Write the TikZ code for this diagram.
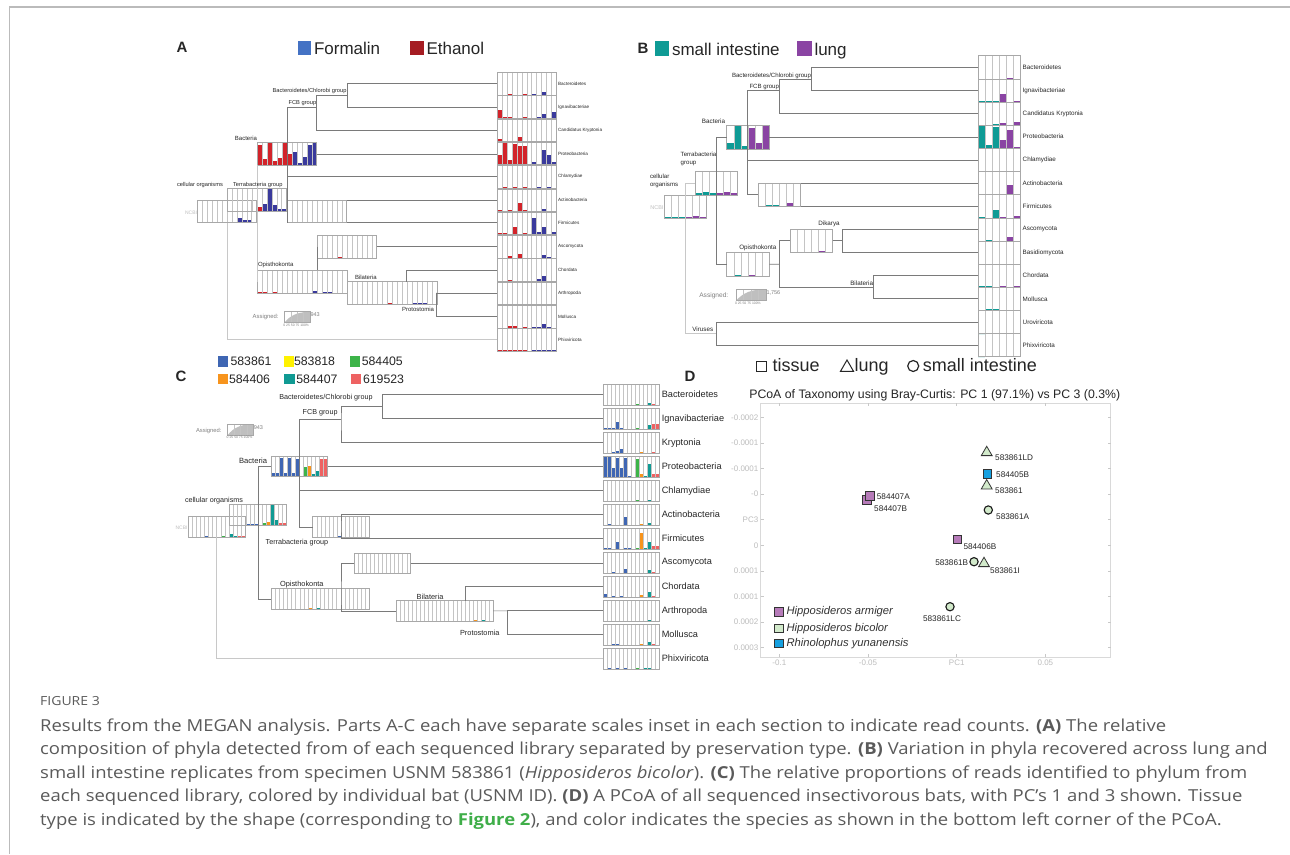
\documentclass[tikz,border=0pt]{standalone}
\usepackage{fontspec}
\usepackage{graphicx}
\setmainfont{Liberation Sans}
\newfontfamily\capfont{Open Sans}
\usetikzlibrary{shapes.geometric,calc}
\newcommand{\myfs}[1]{\fontsize{#1}{#1}\selectfont}
\newcommand{\capw}[1]{\scalebox{1.12}[1]{#1}}
\definecolor{aR}{HTML}{D2232A}
\definecolor{aB}{HTML}{3A3A9C}
\definecolor{legR}{HTML}{A51C22}
\definecolor{legB}{HTML}{4472C4}
\definecolor{bT}{HTML}{0F9B95}
\definecolor{bP}{HTML}{8A44A3}
\definecolor{cB}{HTML}{3F66B3}
\definecolor{cY}{HTML}{FFF200}
\definecolor{cG}{HTML}{3DB449}
\definecolor{cO}{HTML}{F7941D}
\definecolor{cT}{HTML}{109A93}
\definecolor{cS}{HTML}{EE6262}
\definecolor{pPur}{HTML}{B67BB9}
\definecolor{pGrn}{HTML}{D2EACB}
\definecolor{pBlu}{HTML}{16A0E0}
\definecolor{edgec}{HTML}{7A7A7A}
\definecolor{lightc}{HTML}{C8C8C8}
\definecolor{boxc}{HTML}{A8A8A8}
\definecolor{gridc}{HTML}{C4C4C4}
\definecolor{capc}{HTML}{5A5A5A}
\definecolor{figgreen}{HTML}{3FAE49}
\definecolor{tickc}{HTML}{BDBDBD}
\definecolor{bordc}{HTML}{BBBBBB}

\newcommand{\chart}[7]{%
  \node[chartn, minimum width=#4*#5, minimum height=#6, anchor=north west] (#1) at (#2,#3) {};
  \foreach \bi/\bh/\bc in {#7} {\fill[fill=\bc] (#2+\bi*#5, #3+#6) rectangle ++(#5, -\bh*#6);}
  \pgfmathtruncatemacro\ncm{#4-1}
  \foreach \k in {1,...,\ncm} {\draw[gridl] (#2+\k*#5, #3) -- ++(0, #6);}
  \draw[boxl] (#1.north west) rectangle (#1.south east);
}
\newcommand{\assigned}[6]{%
  \node[chartn, minimum width=#4, minimum height=#5, anchor=north west] (#1) at (#2,#3) {};
  \fill[gray!50] (#2,#3+#5) .. controls (#2+0.25*#4,#3+0.3*#5) and (#2+0.5*#4,#3+0.05*#5) .. (#2+#4,#3) -- (#2+#4,#3+#5) -- cycle;
  \foreach \k in {1,2,3} {\draw[gridl] (#2+\k*#4/4,#3) -- ++(0,#5);}
  \draw[boxl] (#1.north west) rectangle (#1.south east);
  \node[lab, anchor=west, text=gray, font=\myfs{5.5}] (#1n) at (#2+#4+0.5,#3+0.3*#5) {#6};
  \node[lab, anchor=north west, text=gray, font=\myfs{3.4}] (#1t) at (#2-1,#3+#5+1.5) {0 25 50 75 100\%};
}

\begin{document}
\begin{tikzpicture}[x=1pt,y=-1pt,
  chartn/.style={inner sep=0pt, outer sep=0pt},
  gridl/.style={draw=gridc, line width=0.35pt},
  boxl/.style={draw=boxc, line width=0.5pt},
  edge/.style={draw=edgec, line width=0.7pt},
  edgeL/.style={draw=lightc, line width=1.2pt},
  lab/.style={inner sep=0pt, outer sep=0pt, text=black!85},
  sqleg/.style={inner sep=0pt, minimum size=#1, anchor=north west},
  tick/.style={inner sep=0pt, text=tickc, font=\myfs{8}},
  tickl/.style={draw=lightc, line width=0.5pt},
  sqm/.style={rectangle, inner sep=0pt, minimum size=8.5, draw=black!80, line width=0.9pt},
  cim/.style={circle, inner sep=0pt, minimum size=8.3, draw=black!90, line width=1.1pt, fill=pGrn},
  trm/.style={regular polygon, regular polygon sides=3, inner sep=0pt, minimum size=12.5, draw=black!80, line width=0.8pt, fill=pGrn},
  ptl/.style={inner sep=0pt, font=\myfs{8.2}, text=black!85},
  capl/.style={inner sep=0pt, anchor=west, font=\capfont\myfs{16.5}, text=capc}
]
\useasboundingbox (0,0) rectangle (1290,854);
\fill[white] (0,0) rectangle (1290,854);
\draw[draw=bordc, line width=1.3pt] (9.5,854) -- (9.5,7) -- (1290,7);

%%%%%%%%%%%%%%%%%%%%%%%% PANEL A
\node[lab, font=\bfseries\myfs{15}, anchor=west] (letA) at (176.5,47.5) {A};
\node[sqleg=13.5, fill=legB] (lgA1) at (297.7,41) {};
\node[lab, font=\myfs{17}, anchor=base west] (lgA1t) at (314,54.3) {Formalin};
\node[sqleg=13.5, fill=legR] (lgA2) at (410,41) {};
\node[lab, font=\myfs{17}, anchor=base west] (lgA2t) at (426.5,54.3) {Ethanol};

\chart{Ar1}{497.3}{72.3}{12}{4.9}{22.5}{2/0.04/aR,5/0.04/aR,7/0.03/aB,9/0.12/aB}
\chart{Ar2}{497.3}{95.6}{12}{4.9}{22.5}{0/0.36/aR,1/0.06/aR,2/0.06/aR,5/0.05/aR,8/0.05/aB,9/0.2/aB,11/0.25/aB}
\chart{Ar3}{497.3}{118.9}{12}{4.9}{22.5}{0/0.12/aR,1/0.04/aR,2/0.04/aR,3/0.04/aR,4/0.2/aR,5/0.03/aR,7/0.03/aB,9/0.03/aB,11/0.03/aB}
\chart{Ar4}{497.3}{142.2}{12}{4.9}{22.5}{0/0.42/aR,1/0.95/aR,2/0.2/aR,3/0.9/aR,4/0.85/aR,5/0.85/aR,7/0.12/aB,8/0.05/aB,9/0.65/aB,10/0.45/aB,11/0.1/aB}
\chart{Ar5}{497.3}{165.5}{12}{4.9}{22.5}{1/0.03/aR,3/0.03/aR,5/0.03/aR,8/0.03/aB,10/0.03/aB}
\chart{Ar6}{497.3}{188.8}{12}{4.9}{22.5}{0/0.04/aR,2/0.04/aR,4/0.38/aR,5/0.04/aR,7/0.03/aB,9/0.12/aB,11/0.03/aB}
\chart{Ar7}{497.3}{212.1}{12}{4.9}{22.5}{0/0.05/aR,1/0.05/aR,3/0.35/aR,5/0.08/aR,7/0.75/aB,8/0.1/aB,9/0.35/aB,11/0.1/aB}
\chart{Ar8}{497.3}{235.4}{12}{4.9}{22.5}{2/0.08/aR,4/0.17/aR,9/0.12/aB,10/0.05/aB}
\chart{Ar9}{497.3}{258.7}{12}{4.9}{22.5}{0/0.03/aR,2/0.04/aR,4/0.03/aR,5/0.03/aR,8/0.12/aB,9/0.22/aB,11/0.03/aB}
\chart{Ar10}{497.3}{282.0}{12}{4.9}{22.5}{9/0.04/aB}
\chart{Ar11}{497.3}{305.3}{12}{4.9}{22.5}{2/0.1/aR,3/0.1/aR,5/0.03/aR,7/0.04/aB,8/0.05/aB,9/0.15/aB,10/0.05/aB}
\chart{Ar12}{497.3}{328.6}{12}{4.9}{22.5}{0/0.03/aR,1/0.03/aR,2/0.03/aR,3/0.03/aR,4/0.03/aR,5/0.03/aR,7/0.03/aB,8/0.03/aB,9/0.05/aB,10/0.03/aB,11/0.03/aB}
\foreach \k/\lab in {1/Bacteroidetes,2/Ignavibacteriae,3/Candidatus Kryptonia,4/Proteobacteria,5/Chlamydiae,6/Actinobacteria,7/Firmicutes,8/Ascomycota,9/Chordata,10/Arthropoda,11/Mollusca,12/Phixviricota}
  {\node[lab, font=\myfs{4.6}, anchor=west] (Al\k) at (Ar\k.east) {\hspace{2pt}\lab};}

\coordinate (bcA) at (347.3,95);
\coordinate (fcbA) at (316.7,107.3);
\coordinate (bnA) at (287.3,107.3);
\coordinate (bilnA) at (406.7,281.7);

\chart{ncbiA}{197.7}{200}{12}{4.9}{22.7}{0/0.05/aR,1/0.05/aR,2/0.05/aR,3/0.05/aR,4/0.05/aR,5/0.05/aR,6/0.05/aB,7/0.05/aB,8/0.22/aB,9/0.1/aB,10/0.1/aB,11/0.03/aB}
\chart{cellA}{227.7}{188.7}{12}{4.9}{23}{6/0.2/aR,7/0.35/aB,8/1/aB,9/0.3/aB,10/0.12/aB,11/0.12/aB}
\chart{bactA}{257.3}{142.7}{12}{4.95}{22.3}{0/0.9/aR,1/0.25/aR,2/1/aR,3/0.2/aR,4/0.3/aR,5/1/aR,6/0.5/aR,7/0.6/aB,8/0.08/aB,9/0.35/aB,10/0.9/aB,11/0.97/aB}
\chart{terrA}{287.3}{200}{12}{4.95}{22.7}{2/0.04/aR,3/0.04/aR,8/0.04/aB,9/0.04/aB,10/0.04/aB}
\chart{ascoA}{317.7}{235}{12}{4.92}{23.3}{4/0.05/aR}
\chart{opisA}{257.3}{270}{18}{4.97}{23.3}{0/0.05/aR,1/0.04/aR,3/0.04/aR,11/0.12/aB,13/0.05/aB,14/0.05/aB}
\chart{bilaA}{347.3}{281.7}{18}{4.97}{22.3}{8/0.04/aR,13/0.05/aB,14/0.05/aB,15/0.05/aB}

\draw[edgeL] (ncbiA.south) |- (Ar12.west);
\draw[edgeL] (bactA.south west) -- (opisA.west);
\draw[edge] (Ar1.west) -| (bcA) |- (Ar2.west);
\draw[edge] (bcA) -| (fcbA) |- (Ar3.west);
\draw[edge] (fcbA) -- (bnA) -- (terrA.south west);
\draw[edge] (bactA.east) -- (bactA.east -| Ar4.west);
\draw[edge] (bnA |- Ar5.west) -- (Ar5.west);
\draw[edge] (terrA.north east) -- (terrA.north east -| Ar6.west);
\draw[edge] (terrA.south east) -- (terrA.south east -| Ar7.west);
\draw[edge] (ascoA.west) -- (ascoA.west |- opisA.north);
\draw[edge] (ascoA.east) -- (ascoA.east -| Ar8.west);
\draw[edge] (Ar9.west) -| (bilnA);
\draw[edge] (Ar10.west) -| (bilaA.east) |- (Ar11.west);

\node[lab, font=\myfs{5.7}, anchor=east] (tA1) at (346.5,91.5) {Bacteroidetes/Chlorobi group};
\node[lab, font=\myfs{5.7}, anchor=east] (tA2) at (316.2,102.8) {FCB group};
\node[lab, font=\myfs{6}, anchor=east] (tA3) at (257,138.5) {Bacteria};
\node[lab, font=\myfs{5.7}, anchor=west] (tA4) at (233,185) {Terrabacteria group};
\node[lab, font=\myfs{5.7}, anchor=west] (tA5) at (177,185) {cellular organisms};
\node[lab, font=\myfs{5}, anchor=east, text=lightgray] (tA6) at (197,213) {NCBI};
\node[lab, font=\myfs{6}, anchor=west] (tA7) at (258,265) {Opisthokonta};
\node[lab, font=\myfs{6}, anchor=west] (tA8) at (355,277.5) {Bilateria};
\node[lab, font=\myfs{6}, anchor=west] (tA9) at (402,309) {Protostomia};
\node[lab, font=\myfs{5.9}, text=gray, anchor=west] (asAl) at (252.7,317.3) {Assigned:};
\assigned{asA}{284.3}{311.7}{25.7}{11}{943}

%%%%%%%%%%%%%%%%%%%%%%%% PANEL B
\node[lab, font=\bfseries\myfs{15}, anchor=west] (letB) at (637.5,48.3) {B};
\node[sqleg=14.5, fill=bT] (lgB1) at (654.5,41) {};
\node[lab, font=\myfs{17}, anchor=base west] (lgB1t) at (672,55) {small intestine};
\node[sqleg=14.5, fill=bP] (lgB2) at (797,41) {};
\node[lab, font=\myfs{17}, anchor=base west] (lgB2t) at (814.5,55) {lung};

\chart{Br1}{978.3}{55.7}{6}{7.07}{23.15}{4/0.03/bP}
\chart{Br2}{978.3}{78.85}{6}{7.07}{23.15}{0/0.04/bT,1/0.04/bT,2/0.03/bT,3/0.33/bP,5/0.04/bP}
\chart{Br3}{978.3}{102.0}{6}{7.07}{23.15}{2/0.03/bT,3/0.08/bP,5/0.15/bP}
\chart{Br4}{978.3}{125.15}{6}{7.07}{23.15}{0/0.95/bT,1/0.14/bT,2/0.9/bT,3/0.38/bP,4/0.78/bP,5/0.05/bP}
\chart{Br5}{978.3}{148.3}{6}{7.07}{23.15}{0/0/bT}
\chart{Br6}{978.3}{171.45}{6}{7.07}{23.15}{1/0.04/bT,3/0.04/bP,4/0.42/bP,5/0.03/bP}
\chart{Br7}{978.3}{194.6}{6}{7.07}{23.15}{0/0.04/bT,2/0.35/bT,3/0.04/bP,5/0.08/bP}
\chart{Br8}{978.3}{217.75}{6}{7.07}{23.15}{1/0.05/bT,4/0.15/bP}
\chart{Br9}{978.3}{240.9}{6}{7.07}{23.15}{0/0/bT}
\chart{Br10}{978.3}{264.05}{6}{7.07}{23.15}{0/0.04/bT,1/0.04/bT,3/0.05/bP,5/0.04/bP}
\chart{Br11}{978.3}{287.2}{6}{7.07}{23.15}{1/0.05/bT,2/0.05/bT}
\chart{Br12}{978.3}{310.35}{6}{7.07}{23.15}{0/0/bT}
\chart{Br13}{978.3}{333.5}{6}{7.07}{23.15}{0/0/bT}
\foreach \k/\lab in {1/Bacteroidetes,2/Ignavibacteriae,3/Candidatus Kryptonia,4/Proteobacteria,5/Chlamydiae,6/Actinobacteria,7/Firmicutes,8/Ascomycota,9/Basidiomycota,10/Chordata,11/Mollusca,12/Uroviricota,13/Phixviricota}
  {\node[lab, font=\myfs{6.3}, anchor=west] (Bl\k) at (Br\k.east) {\hspace{2pt}\lab};}

\coordinate (bcB) at (811.7,79);
\coordinate (fcbB) at (779.3,90);
\coordinate (bnB) at (747.7,90);
\coordinate (opnB) at (779.3,264.2);
\coordinate (bilB) at (873.3,287.3);
\coordinate (dknB) at (842.3,240.65);
\coordinate (virB) at (716.7,333.6);

\chart{bactB}{726.7}{125.7}{6}{7.1}{23.3}{0/0.24/bT,1/1/bT,2/0.15/bT,3/0.9/bP,4/0.27/bP,5/1/bP}
\chart{cellB}{695}{171.7}{6}{7.1}{23.3}{0/0.08/bT,1/0.12/bT,2/0.08/bT,3/0.1/bP,4/0.13/bP,5/0.1/bP}
\chart{ncbiB}{664.3}{195}{6}{7.07}{23.3}{0/0.05/bT,1/0.05/bT,2/0.05/bT,3/0.05/bP,4/0.12/bP,5/0.05/bP}
\chart{terrB}{758.3}{183.3}{6}{7.07}{22.7}{1/0.05/bT,2/0.04/bT,4/0.12/bP}
\chart{opisB}{726.7}{252.3}{6}{7.1}{23.7}{1/0.05/bT,3/0.05/bP}
\chart{dikB}{790}{229}{6}{7.1}{23.3}{4/0.05/bP}

\draw[edgeL] (cellB.west) -| (ncbiB.center) |- (virB);
\draw[edge] (Br1.west) -| (bcB) |- (Br2.west);
\draw[edge] (bcB) -| (fcbB) |- (Br3.west);
\draw[edge] (fcbB) -- (bnB) |- (terrB.west);
\draw[edge] (bactB.east) -- (bactB.east -| Br4.west);
\draw[edge] (bnB |- Br5.west) -- (Br5.west);
\draw[edge] (terrB.north east) -- (terrB.north east -| Br6.west);
\draw[edge] (terrB.south east) -- (terrB.south east -| Br7.west);
\draw[edge] (bactB.west) -- ++(-10,0) |- (opisB.west);
\draw[edge] (opisB.east) -- (opnB);
\draw[edge] (dikB.west) -| (opnB) |- (bilB);
\draw[edge] (dikB.east) -- (dknB);
\draw[edge] (Br8.west) -| (dknB) |- (Br9.west);
\draw[edge] (Br10.west) -| (bilB) |- (Br11.west);
\draw[edge] (Br12.west) -| (virB) |- (Br13.west);

\node[lab, font=\myfs{6.1}, anchor=east] (tB1) at (811,75.7) {Bacteroidetes/Chlorobi group};
\node[lab, font=\myfs{6.1}, anchor=east] (tB2) at (779,86.7) {FCB group};
\node[lab, font=\myfs{6.3}, anchor=east] (tB3) at (725,121.7) {Bacteria};
\node[lab, font=\myfs{6.1}, anchor=west, align=left] (tB4) at (680.7,159) {Terrabacteria\\[1.5pt]group};
\node[lab, font=\myfs{6.1}, anchor=west, align=left] (tB5) at (650,181) {cellular\\[1.5pt]organisms};
\node[lab, font=\myfs{5.5}, anchor=east, text=lightgray] (tB6) at (663.5,207.3) {NCBI};
\node[lab, font=\myfs{6.3}, anchor=west] (tB7) at (739.3,248.3) {Opisthokonta};
\node[lab, font=\myfs{6.3}, anchor=west] (tB8) at (818.3,223.7) {Dikarya};
\node[lab, font=\myfs{6.3}, anchor=east] (tB9) at (873,283.3) {Bilateria};
\node[lab, font=\myfs{6.3}, anchor=west] (tB10) at (692.3,329.3) {Viruses};
\node[lab, font=\myfs{6.6}, text=gray, anchor=west] (asBl) at (699.3,295.7) {Assigned:};
\assigned{asB}{736}{289}{30}{11.7}{1,756}

%%%%%%%%%%%%%%%%%%%%%%%% PANEL C
\node[lab, font=\bfseries\myfs{15}, anchor=west] (letC) at (175.5,376.7) {C};
\node[sqleg=10.5, fill=cB] (lgC1) at (217.7,356) {};
\node[lab, font=\myfs{12.3}, anchor=west] (lgC1t) at (230.5,361.7) {583861};
\node[sqleg=10.5, fill=cY] (lgC2) at (283.3,356) {};
\node[lab, font=\myfs{12.3}, anchor=west] (lgC2t) at (294,361.7) {583818};
\node[sqleg=10.5, fill=cG] (lgC3) at (349.3,356) {};
\node[lab, font=\myfs{12.3}, anchor=west] (lgC3t) at (361.8,361.7) {584405};
\node[sqleg=10.5, fill=cO] (lgC4) at (217.7,373.5) {};
\node[lab, font=\myfs{12.3}, anchor=west] (lgC4t) at (229,379.3) {584406};
\node[sqleg=10.5, fill=cT] (lgC5) at (284,373.5) {};
\node[lab, font=\myfs{12.3}, anchor=west] (lgC5t) at (296.4,379.3) {584407};
\node[sqleg=10.5, fill=cS] (lgC6) at (350.7,373.5) {};
\node[lab, font=\myfs{12.3}, anchor=west] (lgC6t) at (363,379.3) {619523};

\chart{Cr1}{603.3}{384.3}{14}{4}{20.7}{8/0.05/cG,11/0.12/cT,12/0.03/cS}
\chart{Cr2}{603.3}{408.3}{14}{4}{20.7}{0/0.04/cB,1/0.04/cB,2/0.04/cB,3/0.32/cB,4/0.04/cB,8/0.04/cG,11/0.18/cT,12/0.25/cS,13/0.25/cS}
\chart{Cr3}{603.3}{432.3}{14}{4}{20.7}{2/0.05/cB,3/0.08/cB,4/0.18/cB,9/0.05/cO,12/0.03/cS}
\chart{Cr4}{603.3}{456.3}{14}{4}{20.7}{0/1/cB,1/1/cB,2/0.45/cB,3/0.9/cB,4/0.45/cB,5/0.9/cB,6/0.05/cB,8/0.85/cG,9/0.15/cO,10/0.05/cT,11/0.65/cT,12/0.15/cS,13/0.15/cS}
\chart{Cr5}{603.3}{480.3}{14}{4}{20.7}{8/0.03/cG,11/0.04/cT}
\chart{Cr6}{603.3}{504.3}{14}{4}{20.7}{1/0.03/cB,5/0.38/cB,9/0.05/cO,11/0.12/cT}
\chart{Cr7}{603.3}{528.3}{14}{4}{20.7}{0/0.03/cB,1/0.03/cB,3/0.32/cB,5/0.06/cB,6/0.06/cB,8/0.05/cG,9/0.75/cO,10/0.05/cT,11/0.35/cT,12/0.15/cS,13/0.15/cS}
\chart{Cr8}{603.3}{552.3}{14}{4}{20.7}{2/0.06/cB,5/0.18/cB,11/0.13/cT,12/0.04/cS}
\chart{Cr9}{603.3}{576.3}{14}{4}{20.7}{0/0.13/cB,2/0.04/cB,4/0.03/cB,9/0.12/cO,11/0.22/cT,12/0.04/cS}
\chart{Cr10}{603.3}{600.3}{14}{4}{20.7}{11/0.04/cT}
\chart{Cr11}{603.3}{624.3}{14}{4}{20.7}{2/0.07/cB,3/0.07/cB,9/0.05/cO,11/0.13/cT,12/0.04/cS}
\chart{Cr12}{603.3}{648.3}{14}{4}{20.7}{1/0.03/cB,3/0.03/cB,5/0.03/cB,8/0.03/cG,10/0.04/cT,11/0.06/cT}
\foreach \k/\lab in {1/Bacteroidetes,2/Ignavibacteriae,3/Kryptonia,4/Proteobacteria,5/Chlamydiae,6/Actinobacteria,7/Firmicutes,8/Ascomycota,9/Chordata,10/Arthropoda,11/Mollusca,12/Phixviricota}
  {\node[lab, font=\myfs{9.2}, anchor=west] (Cl\k) at (Cr\k.east) {\hspace{2.5pt}\lab};}

\coordinate (bcC) at (382.3,406.7);
\coordinate (fcbC) at (341,419);
\coordinate (bnC) at (299.3,419);
\coordinate (tnC) at (341,527);
\coordinate (opnC) at (341,599);
\coordinate (bilnC) at (465,600.7);
\coordinate (prnC) at (507.3,610.85);

\chart{ncbiC}{188.3}{516.7}{14}{4.05}{20.7}{0/0.04/cB,1/0.04/cB,2/0.04/cB,3/0.04/cB,4/0.06/cB,5/0.04/cB,6/0.03/cB,8/0.07/cG,9/0.04/cO,10/0.15/cT,11/0.05/cT,12/0.07/cS,13/0.07/cS}
\chart{cellC}{229.3}{504.3}{14}{4.1}{20.7}{4/0.07/cB,5/0.07/cB,6/0.07/cB,8/0.1/cG,9/0.15/cO,10/1/cT,11/0.25/cT,12/0.08/cS,13/0.08/cS}
\chart{bactC}{271}{456.7}{14}{4.05}{20}{0/0.2/cB,1/0.2/cB,2/0.95/cB,3/0.2/cB,4/0.95/cB,5/0.2/cB,6/0.9/cB,8/0.5/cG,9/0.55/cO,10/0.15/cT,11/0.3/cT,12/0.9/cS,13/0.9/cS}
\chart{terrC}{312.7}{516.7}{14}{4.05}{20.7}{4/0.04/cB,6/0.08/cB,11/0.04/cT,12/0.04/cS}
\chart{ascoC}{354.3}{553.3}{14}{4.03}{20}{6/0.02/cB}
\chart{opisC}{271}{588.7}{24}{4.1}{20.7}{1/0.04/cB,3/0.04/cB,5/0.04/cB,8/0.03/cB,9/0.08/cO,11/0.06/cT,12/0.04/cS,13/0.04/cS}
\chart{bilaC}{396}{600.7}{24}{4.05}{20.3}{19/0.04/cO,21/0.05/cT}

\draw[edgeL] (ncbiC.south) |- (Cr12.west);
\draw[edge] (Cr1.west) -| (bcC) |- (Cr2.west);
\draw[edge] (bcC) -| (fcbC) |- (Cr3.west);
\draw[edge] (fcbC) -- (bnC) |- (terrC.west);
\draw[edge] (bactC.east) -- (bactC.east -| Cr4.west);
\draw[edge] (bnC |- Cr5.west) -- (Cr5.west);
\draw[edge] (Cr6.west) -| (tnC) |- (Cr7.west);
\draw[edge] (bactC.west) -- ++(-12.7,0) |- (opisC.west);
\draw[edge] (ascoC.west) -| (opnC) |- (bilaC.west);
\draw[edge] (ascoC.east) -- (ascoC.east -| Cr8.west);
\draw[edge] (Cr9.west) -| (bilnC);
\draw[edge] (bilaC.east) -- (prnC);
\draw[edge] (Cr10.west) -| (prnC) |- (Cr11.west);

\node[lab, font=\myfs{7.2}, anchor=west] (tC1) at (279.3,397.3) {Bacteroidetes/Chlorobi group};
\node[lab, font=\myfs{7.2}, anchor=west] (tC2) at (302.7,412.3) {FCB group};
\node[lab, font=\myfs{7.6}, anchor=east] (tC3) at (267,461) {Bacteria};
\node[lab, font=\myfs{7.2}, anchor=west] (tC4) at (265.7,542.3) {Terrabacteria group};
\node[lab, font=\myfs{7.2}, anchor=west] (tC5) at (185,501) {cellular organisms};
\node[lab, font=\myfs{5}, anchor=east, text=lightgray] (tC6) at (187.5,527.7) {NCBI};
\node[lab, font=\myfs{7.4}, anchor=west] (tC7) at (280,585) {Opisthokonta};
\node[lab, font=\myfs{7.4}, anchor=west] (tC8) at (416.7,597) {Bilateria};
\node[lab, font=\myfs{7.4}, anchor=west] (tC9) at (460,633.3) {Protostomia};
\node[lab, font=\myfs{5.8}, text=gray, anchor=west] (asCl) at (196,430.7) {Assigned:};
\assigned{asC}{227.7}{424}{25.6}{11}{943}

%%%%%%%%%%%%%%%%%%%%%%%% PANEL D
\node[lab, font=\bfseries\myfs{15}, anchor=west] (letD) at (684.5,376.7) {D};
\node[rectangle, inner sep=0pt, minimum size=10, draw=black!85, line width=1pt] (lgDs) at (761.7,366) {};
\node[lab, font=\myfs{18}, anchor=base west] (lgDst) at (772.5,371.5) {tissue};
\node[regular polygon, regular polygon sides=3, inner sep=0pt, minimum size=15, draw=black!85, line width=1pt] (lgDt) at (847,367.5) {};
\node[lab, font=\myfs{18}, anchor=base west] (lgDtt) at (854.5,371.5) {lung};
\node[circle, inner sep=0pt, minimum size=11, draw=black!85, line width=1.2pt] (lgDc) at (913.2,366) {};
\node[lab, font=\myfs{18}, anchor=base west] (lgDct) at (922.8,371.5) {small intestine};
\node[lab, font=\myfs{12.3}, anchor=west] (titD) at (749.3,395.3) {PCoA of Taxonomy using Bray-Curtis: PC 1 (97.1\%) vs PC 3 (0.3\%)};

\node[chartn, minimum width=350, minimum height=254, anchor=north west] (frameD) at (760.7,403.3) {};
\draw[draw=black!15, line width=1.5pt] (frameD.north west) rectangle (frameD.south east);
\foreach \yy/\tl [count=\n] in {417.3/-0.0002,442.9/-0.0001,468.5/-0.0001,494.1/-0,519.7/PC3,545.3/0,570.9/0.0001,596.5/0.0001,622.1/0.0002,647.7/0.0003}
  {\node[tick, anchor=east] (yt\n) at (758.5,\yy) {\tl};
   \draw[tickl] (760.7,\yy) -- ++(3,0);
   \draw[tickl] (1110.7,\yy) -- ++(-3,0);}
\foreach \xx/\tl [count=\n] in {779.3/-0.1,868/-0.05,956.7/PC1,1045.4/0.05}
  {\node[tick, anchor=center] (xt\n) at (\xx,662.5) {\tl};
   \draw[tickl] (\xx,657.3) -- ++(0,-3);
   \draw[tickl] (\xx,403.3) -- ++(0,3);}

\node[sqm, fill=pPur] (p7B) at (866.7,500) {};
\node[sqm, fill=pPur] (p7A) at (870,496) {};
\node[sqm, fill=pPur] (p6B) at (957.3,539.3) {};
\node[sqm, fill=pBlu] (p5B) at (987.3,474) {};
\node[trm] (pLD) at (986.7,452.5) {};
\node[trm] (p61) at (986.7,485.8) {};
\node[cim] (p1A) at (988.3,510) {};
\node[cim] (p1B) at (974,561.7) {};
\node[trm] (p1I) at (984,563.5) {};
\node[cim] (p1LC) at (950,606.7) {};

\node[ptl, anchor=west] (l7A) at (876.7,496.5) {584407A};
\node[ptl, anchor=west] (l7B) at (874,508.3) {584407B};
\node[ptl, anchor=west] (l6B) at (963.3,546.7) {584406B};
\node[ptl, anchor=west] (l5B) at (996,475) {584405B};
\node[ptl, anchor=west] (lLD) at (995,457.3) {583861LD};
\node[ptl, anchor=west] (l61) at (995,490.7) {583861};
\node[ptl, anchor=west] (l1A) at (996,516.7) {583861A};
\node[ptl, anchor=east] (l1B) at (968.3,562.5) {583861B};
\node[ptl, anchor=west] (l1I) at (990,570.7) {583861I};
\node[ptl, anchor=center] (l1LC) at (942,619) {583861LC};

\node[sqm, fill=pPur] (lgD1) at (779,611.7) {};
\node[sqm, fill=pGrn] (lgD2) at (779,628.3) {};
\node[sqm, fill=pBlu] (lgD3) at (779,643.3) {};
\node[lab, font=\itshape\myfs{11.2}, anchor=west, text=black!80] (lgD1t) at (786.5,611.7) {Hipposideros armiger};
\node[lab, font=\itshape\myfs{11.2}, anchor=west, text=black!80] (lgD2t) at (786.5,628.3) {Hipposideros bicolor};
\node[lab, font=\itshape\myfs{11.2}, anchor=west, text=black!80] (lgD3t) at (786.5,643.3) {Rhinolophus yunanensis};

%%%%%%%%%%%%%%%%%%%%%%%% CAPTION
\node[inner sep=0pt, anchor=west, font=\capfont\myfs{12.5}, text=capc] (figl) at (40,700.7) {\capw{FIGURE 3}};
\node[capl] (cap1) at (40,726.7) {\capw{Results from the MEGAN analysis. Parts A-C each have separate scales inset in each section to indicate read counts. \textbf{(A)} The relative}};
\node[capl] (cap2) at (40,750) {\capw{composition of phyla detected from of each sequenced library separated by preservation type. \textbf{(B)} Variation in phyla recovered across lung and}};
\node[capl] (cap3) at (40,774) {\capw{small intestine replicates from specimen USNM 583861 (\textit{Hipposideros bicolor}). \textbf{(C)} The relative proportions of reads identified to phylum from}};
\node[capl] (cap4) at (40,797.3) {\capw{each sequenced library, colored by individual bat (USNM ID). \textbf{(D)} A PCoA of all sequenced insectivorous bats, with PC’s 1 and 3 shown. Tissue}};
\node[capl] (cap5) at (40,820.7) {\capw{type is indicated by the shape (corresponding to \textcolor{figgreen}{\textbf{Figure 2}}), and color indicates the species as shown in the bottom left corner of the PCoA.}};
\end{tikzpicture}
\end{document}
